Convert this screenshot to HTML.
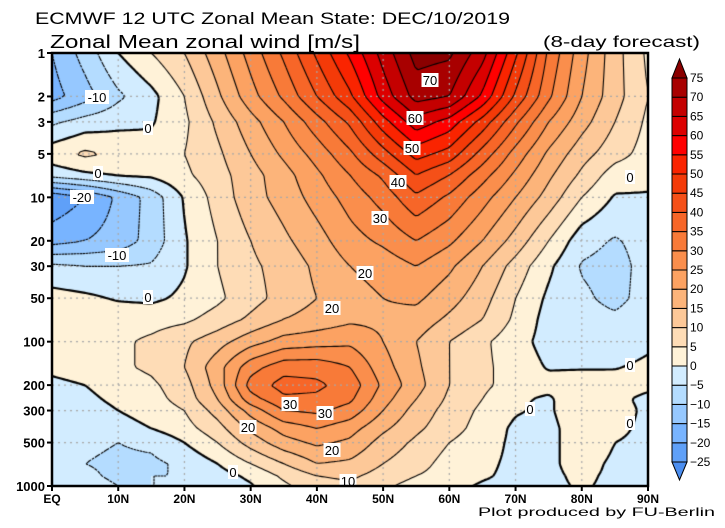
<!DOCTYPE html>
<html><head><meta charset="utf-8"><style>
body{margin:0;background:#fff;}
#wrap{position:relative;width:725px;height:528px;overflow:hidden;background:#fff;font-family:"Liberation Sans",sans-serif;}
canvas{position:absolute;left:52px;top:53px;}
svg{position:absolute;left:0;top:0;}
</style></head><body>
<div id="wrap">
<canvas id="cv" width="596" height="433"></canvas>
<svg id="ov" width="725" height="528"></svg>
</div>
<script>
const levels=[1,2,3,5,7,10,20,30,50,70,100,150,200,250,300,400,500,700,850,1000];
const lats=[0,5,10,15,20,25,30,35,40,45,50,55,60,65,70,75,80,85,90];
const windRows=[
[-15,-8,0,5,10,18,27,36,46,56,67,77,76,67,51,34,22,12,4],
[-17,-12,-6,-1.5,5,14,23,31,40,49,62,72,70,59,44,31,20,12,5],
[-6,-3,-1.5,-0.5,4,11,18,25,33,41,53,63,58,48,36,25,17,10,4],
[3,6,4,2,5,9,15,21,27,34,43,52,48,38,28,19,12,7,3],
[-3,-1,0.5,1,4,8,13,18,24,30,36,45,40,32,24,16,9,2.5,1.5],
[-24,-20,-14,-8,0.5,7,13,17,22,27,32,39,34,27,20,13,5,-0.5,-0.5],
[-17,-15,-13,-8,-0.5,5,10,14,18,23,26,30,26,20,13,5,-3,-5.5,-3],
[-4,-5,-5,-4.5,-0.5,5,9,12,16,20,22,25,21,15,8,1,-5.5,-7,-3],
[2,1,-0.5,-1,1,4,8,12,15,18,20,21,17,12,5,-1,-4,-6.5,-3],
[3,3,3,3,4,7,11,15,17,19,19,18,14,10,4,-2,-3,-4,-2],
[2,3,4,6,9,13,18,22,23,24,20,15,10,6,2,-2,-3,-3,-1],
[1,2,4,6,10,18,28,33,33,30,22,16,10,6,3,-0.5,-0.5,-0.3,1],
[-1,0,2,4,8,17,32,37,36,33,24,17,10,6,3,2,3,2,1],
[-2,-1,1,3,7,15,28,34,34,31,22,15,9,5,1,-1,5,1,-1],
[-2,-2,0,2,5,12,22,30,31,28,20,13,8,4,0.5,-1,5,2,-1],
[-3,-3,-2,0,3,8,16,22,25,22,16,11,7,3,-1,-2,4,1,-1],
[-3,-4,-5,-4,0,5,12,18,21,19,13,9,5,2,-1,-2,4,0,-1],
[-3,-5,-6,-6,-4,0,5,10,15,14,10,7,3,1,-1,-1,2,-1,-1],
[-3,-4,-6,-5,-5,-2,1,6,10,11,8,5,3,0.5,-1,-1,1,-1,-1],
[-2,-3,-5,-5,-5,-3,-0.5,4,8,9,6,3,1,-0.5,-1,-1,0.5,-1,-1]];
const yTickLabels=[1,2,3,5,10,20,30,50,100,200,300,500,1000];
const xTickLabels=["EQ","10N","20N","30N","40N","50N","60N","70N","80N","90N"];
const cbarLevels=[-25,-20,-15,-10,-5,0,5,10,15,20,25,30,35,40,45,50,55,60,65,70,75];
const cbarColors=['#4b8ef0','#5fa0f8','#78b4ff','#96c8ff','#b4dcff','#d2ecff','#fff2d8','#fedcb6','#fdc898','#fcb47a','#fca262','#fa8e4c','#f87a38','#f76628','#f55018','#f43a08','#fa2400','#ff0000','#dc0000','#c40000','#a80000','#8a0000'];
const contourLabels=[["-10",97,97],["0",148,128],["0",98,173],["-20",82,197],["-10",117,255],["0",148,297],["70",430,80],["60",415,118],["50",412,148],["40",398,182],["30",380,218],["20",365,273],["0",630,177],["20",332,308],["30",290,404],["30",325,413],["20",248,427],["20",332,450],["0",233,472],["10",348,481],["0",530,409],["0",630,365],["0",630,423]];

const X0=52,X1=648,Y0=53,Y1=486;
const xOfLat=l=>X0+(l/90)*(X1-X0);
const yOfP=p=>Y0+Math.log10(p)/3*(Y1-Y0);
const logL=levels.map(Math.log10);
function val(lat,lp){
  let fi=lat/5;if(fi<0)fi=0;if(fi>17.9999)fi=17.9999;const i=Math.floor(fi),tx=fi-i;
  let j=0;while(j<levels.length-2&&lp>logL[j+1])j++;
  let ty=(lp-logL[j])/(logL[j+1]-logL[j]);ty=Math.max(0,Math.min(1,ty));
  const a=windRows[j][i],b=windRows[j][i+1],c=windRows[j+1][i],d=windRows[j+1][i+1];
  return (a*(1-tx)+b*tx)*(1-ty)+(c*(1-tx)+d*tx)*ty;
}
function valAt(px,py){return val((px)/596*90,py/433*3);}
function colorOf(v){let k=Math.floor((v+25)/5)+1;if(v<-25)k=0;if(k>21)k=21;if(k<0)k=0;return cbarColors[k];}
const cv=document.getElementById('cv'),ctx=cv.getContext('2d');
const W=596,H=433;
for(let y=0;y<H;y++)for(let x=0;x<W;x++){ctx.fillStyle=colorOf(valAt(x+0.5,y+0.5));ctx.fillRect(x,y,1,1);}
ctx.strokeStyle='#a8a8a8';ctx.lineWidth=1.2;ctx.setLineDash([2,4]);
for(let l=10;l<90;l+=10){const x=xOfLat(l)-X0;ctx.beginPath();ctx.moveTo(x,0);ctx.lineTo(x,H);ctx.stroke();}
yTickLabels.forEach(p=>{if(p==1||p==1000)return;const y=yOfP(p)-Y0;ctx.beginPath();ctx.moveTo(0,y);ctx.lineTo(W,y);ctx.stroke();});
const s=3,nx=Math.ceil(W/s)+1,ny=Math.ceil(H/s)+1;const G=[];
for(let j=0;j<ny;j++){G.push([]);for(let i=0;i<nx;i++)G[j].push(valAt(Math.min(i*s,W),Math.min(j*s,H)));}
for(let L=-25;L<=75;L+=5){
  ctx.beginPath();
  ctx.lineWidth=L==0?2.2:1.1;ctx.strokeStyle='#000';
  ctx.setLineDash(L<0?[2.5,1.5]:[]);
  for(let j=0;j<ny-1;j++)for(let i=0;i<nx-1;i++){
    const a=G[j][i],b=G[j][i+1],c=G[j+1][i+1],d=G[j+1][i];
    const pts=[];const x=i*s,y=j*s;
    if((a<L)!=(b<L))pts.push([x+s*(L-a)/(b-a),y]);
    if((b<L)!=(c<L))pts.push([x+s,y+s*(L-b)/(c-b)]);
    if((d<L)!=(c<L))pts.push([x+s*(L-d)/(c-d),y+s]);
    if((a<L)!=(d<L))pts.push([x,y+s*(L-a)/(d-a)]);
    for(let k=0;k+1<pts.length;k+=2){ctx.moveTo(pts[k][0],pts[k][1]);ctx.lineTo(pts[k+1][0],pts[k+1][1]);}
  }
  ctx.stroke();
}
ctx.setLineDash([]);
const NS='http://www.w3.org/2000/svg',ov=document.getElementById('ov');
function mk(tag,attrs,text){const e=document.createElementNS(NS,tag);for(const k in attrs)e.setAttribute(k,attrs[k]);if(text!==undefined)e.textContent=text;ov.appendChild(e);return e;}
let e;
contourLabels.forEach(c=>{
  const w=c[0].length*7+3;
  e=mk('rect',{x:c[1]-w/2,y:c[2]-7,width:w,height:14,fill:'#fff'});
  
  
  e=mk('text',{x:c[1],y:c[2]+5,'font-size':13,'text-anchor':'middle','font-family':'Liberation Sans, sans-serif'},c[0]);
  
  
});
e=mk('rect',{x:X0,y:Y0,width:X1-X0,height:Y1-Y0,fill:'none',stroke:'#000','stroke-width':2.5});


yTickLabels.forEach(p=>{const y=yOfP(p);
  e=mk('line',{x1:X0-5,x2:X0,y1:y,y2:y,stroke:'#000','stroke-width':2});
  
  
  e=mk('text',{x:X0-7,y:y+5,'font-size':13,'font-weight':'bold','text-anchor':'end'},String(p));
  
  
});
xTickLabels.forEach((t,k)=>{const x=xOfLat(k*10);
  e=mk('line',{x1:x,x2:x,y1:Y1,y2:Y1+5,stroke:'#000','stroke-width':2});
  
  
  e=mk('text',{x:x,y:Y1+17,'font-size':12,'font-weight':'bold','text-anchor':'middle'},t);
  
  
});
const CB0=78,CBh=19.2,cx=672,cw=15;
for(let k=0;k<20;k++){const y=CB0+(19-k)*CBh;
  e=mk('rect',{x:cx,y:y,width:cw,height:CBh,fill:cbarColors[k+1],stroke:'#000','stroke-width':1});
  
  
}
e=mk('polygon',{points:`${cx},${CB0} ${cx+cw},${CB0} ${cx+cw/2},59`,fill:cbarColors[21],stroke:'#000'});


e=mk('polygon',{points:`${cx},${CB0+20*CBh} ${cx+cw},${CB0+20*CBh} ${cx+cw/2},480`,fill:cbarColors[0],stroke:'#000'});


cbarLevels.forEach((v,k)=>{const y=CB0+(20-k)*CBh;
  e=mk('text',{x:cx+cw+3,y:y+4,'font-size':12},v<0?'\u2212'+(-v):String(v));
  
  
});
e=mk('text',{x:35,y:24,'font-size':17,textLength:475,lengthAdjust:'spacingAndGlyphs'},'ECMWF 12 UTC Zonal Mean State: DEC/10/2019');


e=mk('text',{x:50,y:48,'font-size':18,textLength:310,lengthAdjust:'spacingAndGlyphs'},'Zonal Mean zonal wind [m/s]');


e=mk('text',{x:543,y:47,'font-size':16,textLength:157,lengthAdjust:'spacingAndGlyphs'},'(8-day forecast)');


e=mk('text',{x:478,y:516,'font-size':12,textLength:237,lengthAdjust:'spacingAndGlyphs'},'Plot produced by FU-Berlin');


</script>
</body></html>
